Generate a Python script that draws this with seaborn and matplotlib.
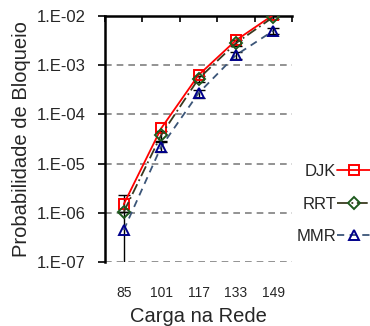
import numpy as np
import pandas as pd
import matplotlib
matplotlib.use("Agg")
import matplotlib.pyplot as plt
import seaborn as sns
from matplotlib.ticker import FixedLocator, FuncFormatter

# Network load levels (categories on the x axis)
carga = ["85", "101", "117", "133", "149"]

# Blocking probability per routing algorithm
djk = [1.5e-6, 5.2e-5, 6.3e-4, 3.2e-3, 1.05e-2]
rrt = [1.05e-6, 3.8e-5, 5.3e-4, 2.8e-3, 9.5e-3]
mmr = [4.5e-7, 2.2e-5, 2.7e-4, 1.6e-3, 5.0e-3]

# Confidence half-widths
rrt_err = [0.0, 9e-6, 8e-5, 4e-4, 1e-3]
mmr_err = [1.85e-6, 5e-6, 5e-5, 2.5e-4, 6e-4]

sns.set_theme(style="white")
plt.rcParams["font.family"] = ["Liberation Sans", "DejaVu Sans"]

df = pd.DataFrame({
    "Carga": carga * 3,
    "Prob": djk + rrt + mmr,
    "Alg": ["DJK"] * 5 + ["RRT"] * 5 + ["MMR"] * 5,
})

fig = plt.figure(figsize=(3.70, 3.26), dpi=100)
ax = fig.add_axes([0.284, 0.196, 0.505, 0.755])

styles = {
    "DJK": dict(color="#FF0000", ls="-", marker="s", mec="#FF0000", ms=10),
    "RRT": dict(color="#3A3A20", ls=(0, (6, 2, 1, 2)), marker="D", mec="#1E5A1E", ms=7.5),
    "MMR": dict(color="#3B5578", ls=(0, (4, 3)), marker="^", mec="#00008B", ms=10),
}
x = np.arange(len(carga))

# error bars drawn first, behind the markers
ax.errorbar(x, rrt, yerr=rrt_err, fmt="none", ecolor="black", elinewidth=1.0,
            capsize=4, capthick=1.0, zorder=2)
ax.errorbar(x, mmr, yerr=mmr_err, fmt="none", ecolor="black", elinewidth=1.0,
            capsize=4, capthick=1.0, zorder=2)

for alg in ["DJK", "RRT", "MMR"]:
    sub = df[df["Alg"] == alg]
    st = styles[alg]
    sns.lineplot(x=np.arange(len(sub)), y=sub["Prob"].values, ax=ax,
                 color=st["color"], linewidth=1.3, marker=st["marker"],
                 markersize=st["ms"], markerfacecolor="none",
                 markeredgecolor=st["mec"], markeredgewidth=1.4,
                 label=alg, zorder=3)
    ax.lines[-1].set_linestyle(st["ls"])

ax.set_yscale("log")
ax.set_ylim(1e-7, 1e-2)
ax.set_xlim(-0.5, 4.5)

decades = [1e-7, 1e-6, 1e-5, 1e-4, 1e-3, 1e-2]
ax.yaxis.set_major_locator(FixedLocator(decades))
ax.yaxis.set_minor_locator(FixedLocator([]))
ax.yaxis.set_major_formatter(FuncFormatter(lambda v, p: "1.E-%02d" % round(-np.log10(v))))
for d in decades:
    ax.axhline(d, color="#808080", lw=1.2, ls=(0, (4, 3)), zorder=1)

# category labels at the bottom, boundary ticks on the top axis line
ax.set_xticks(x)
ax.set_xticklabels(carga)
ax.tick_params(axis="x", which="major", length=0, labelsize=10, pad=17)
ax.set_xticks(np.arange(-0.5, 5.0, 1.0), minor=True)
ax.tick_params(axis="x", which="minor", top=True, bottom=False, direction="in",
               length=4, width=1.2, color="black")
ax.tick_params(axis="y", left=True, direction="out", length=5, width=1.2,
               color="black", labelsize=12, pad=9)

for side in ["right", "bottom"]:
    ax.spines[side].set_visible(False)
for side in ["left", "top"]:
    ax.spines[side].set_visible(True)
    ax.spines[side].set_color("black")
    ax.spines[side].set_linewidth(1.8)

ax.set_xlabel("Carga na Rede", fontsize=14.5, labelpad=5)
ax.set_ylabel("Probabilidade de Bloqueio", fontsize=14.5, labelpad=4)
ax.grid(False)

handles, labels = ax.get_legend_handles_labels()
for h in handles:
    h.set_markersize(h.get_markersize() * 0.75)
leg = ax.legend(handles, labels, loc="center left", bbox_to_anchor=(0.99, 0.235),
                markerfirst=False, frameon=False, fontsize=12, handlelength=2.0,
                handletextpad=0.05, labelspacing=1.05, borderaxespad=0)
for t in leg.get_texts():
    t.set_ha("right")

fig.savefig("out.png", dpi=100)
